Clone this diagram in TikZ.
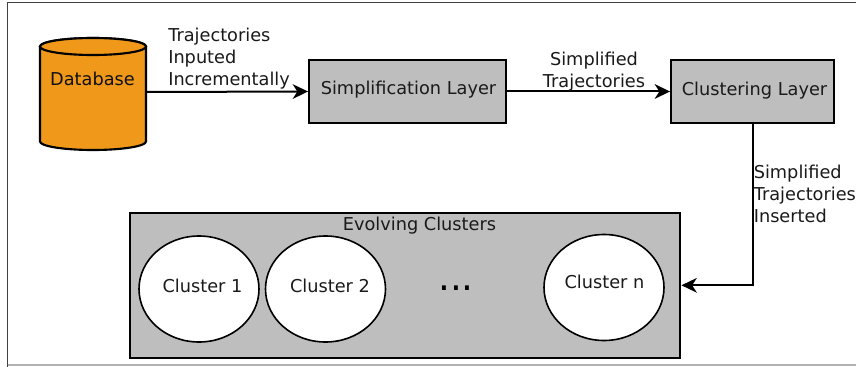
\documentclass[tikz,border=0pt]{standalone}
\usepackage{fontspec}
\setmainfont{DejaVu Sans}
\usetikzlibrary{shapes.geometric,arrows.meta}
\definecolor{dbfill}{HTML}{F0981A}
\definecolor{boxfill}{HTML}{BEBEBE}
\definecolor{inkc}{HTML}{1A1A1A}
\tikzset{
  x=0.75pt,y=-0.75pt,
  layerbox/.style={draw=black,line width=1.7pt,fill=boxfill,inner sep=0pt},
  clusternode/.style={draw=black,line width=1.2pt,fill=white,ellipse,inner sep=0pt,minimum width=90pt,minimum height=79.5pt},
  txt/.style={inner sep=0pt,text=inkc,font=\fontsize{13.3}{15}\selectfont},
  lbl/.style={inner sep=0pt,anchor=north west,align=left,text=inkc,font=\fontsize{13.3}{16.6}\selectfont},
  flow/.style={draw=black,line width=1.5pt,-{Stealth[length=11.5pt,width=11pt,inset=3.5pt]}},
  dbline/.style={draw=black,line width=1.6pt,fill=dbfill},
}
\begin{document}
\begin{tikzpicture}
\useasboundingbox (0,0) rectangle (856,367);
\fill[white] (0,0) rectangle (856,367);
\draw[line width=0.8pt,draw=black!75] (7.5,367) -- (7.5,2.5) -- (856,2.5);
\draw[line width=0.8pt,draw=black!30] (7.5,365) -- (856,365);

\path[dbline] (40,46.5) -- (40,141.5) arc[start angle=180,end angle=360,x radius=53,y radius=-8.5] -- (146,46.5) arc[start angle=0,end angle=180,x radius=53,y radius=-8.5] -- cycle;
\path[dbline] (93,46.5) ellipse[x radius=53,y radius=8.5];
\node[inner sep=0pt,minimum width=79.5pt,minimum height=84pt] (db) at (93,92) {};
\node[txt,text=inkc!60!black] (dbl) at (92.5,79) {Database};

\node[layerbox,minimum width=147.5pt,minimum height=47pt] (simp) at (407.5,91.5) {};
\node[txt] (simpl) at (408.5,90) {Simplification Layer};
\node[layerbox,minimum width=122pt,minimum height=47pt] (clus) at (752.5,91.5) {};
\node[txt] (clusl) at (754.5,91) {Clustering Layer};
\node[layerbox,minimum width=413pt,minimum height=108.5pt] (evo) at (405,285.3) {};
\node[txt] (evol) at (419.5,225.5) {Evolving Clusters};

\node[clusternode] (c1) at (199,289) {};
\node[clusternode] (c2) at (325.5,289) {};
\node[clusternode] (cn) at (604,287.5) {};
\node[txt] (c1l) at (202.5,285.5) {Cluster 1};
\node[txt] (c2l) at (330,285.5) {Cluster 2};
\node[txt] (cnl) at (604.5,281.5) {Cluster n};
\node[inner sep=0pt,font=\fontsize{28}{30}\selectfont] (dots) at (456,288) {...};

\draw[flow] (db.east) -- (simp.west);
\draw[flow] (simp.east) -- (clus.west);
\draw[flow] (clus.south) |- (evo.east);

\node[lbl] (l1) at (168,27.5) {Trajectories\\Inputed\\Incrementally};
\node[lbl,align=center,anchor=north] (l2) at (594,52) {Simplified\\Trajectories};
\node[lbl] (l3) at (753.5,164.5) {Simplified\\Trajectories\\Inserted};
\end{tikzpicture}
\end{document}
